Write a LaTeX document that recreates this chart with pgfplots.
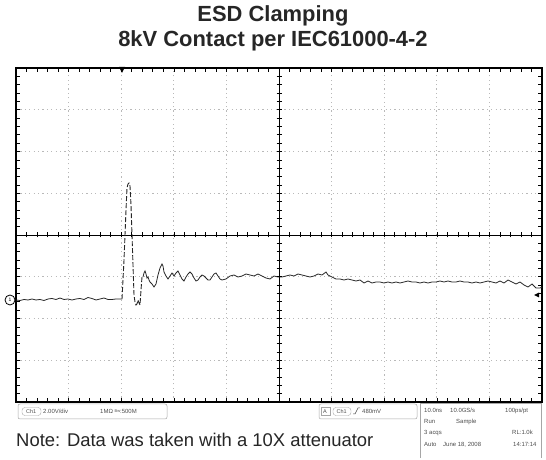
\documentclass[border=0pt]{standalone}
\usepackage{pgfplots}
\pgfplotsset{compat=1.18}
\usepackage{pgfplotstable}
\usepackage{fontspec}
\setmainfont{Liberation Sans}

% trace: x = screen position, y = screen height (1 unit = 1bp)
\pgfplotstableread{
x y
16 160
20 159.5
24 160.5
28 160
32 161
36 160
40 160.5
44 159.5
48 161
52 161.5
56 160.5
60 162
64 160.5
68 161
72 160
76 161
80 161.5
84 160.5
88 162.5
92 161.5
96 160
100 161
104 162
108 160.5
112 160.5
116 161
120 161
122 161
}\pre

\pgfplotstableread{
x y
122 161
124 200
126 250
127 272
128 276
129 277
130 274
131 255
132 225
133 195
134 165
135 158
136 155
137 156
138 160
139 157
140 155
141 170
142 183
143 183
}\spike

\pgfplotstableread{
x y
143 183
144 187
145 189
146 186
147 182
148 183
149 180
150 178
152 176
154 173
156 176
158 185
160 192
162 196
163 194
164 188
166 184
168 181
170 184
172 187
174 184
176 187
178 189
180 185
182 181
184 179
186 183
188 186
190 188
192 186
194 182
196 179
198 180
200 183
202 185
204 184
206 182
208 180
210 180
212 183
214 186
216 187
218 184
220 181
222 180
226 181
230 184
234 185
238 183
242 184
246 186
250 185
254 184
258 186
262 184
266 182
270 181
274 184
278 183
282 183
286 184
290 185
294 184
298 186
302 185
306 184
310 183
314 184
318 186
322 185
326 188
328 185
332 183
336 181
340 181
344 180
348 181
352 180
356 179
360 180
364 177
368 179
372 177
376 178
380 178
384 177
388 178
392 177
396 178
400 177
404 178
408 179
412 178
416 178
420 177
424 178
428 177
432 178
436 178
440 179
444 178
448 179
452 178
456 178
460 179
464 178
468 178
472 177
476 178
480 177
484 178
488 179
492 178
496 177
500 179
504 177
508 180
512 178
516 176
520 178
524 175
528 173
532 176
536 172
540 172
542 173
}\post

\begin{document}
\begin{tikzpicture}[x=1bp,y=1bp]
\useasboundingbox (0,0) rectangle (546,460);
\begin{axis}[
  at={(16bp,58bp)}, anchor=south west,
  scale only axis, width=526bp, height=334bp,
  xmin=16, xmax=542, ymin=58, ymax=392,
  xtick={16,68.6,121.2,173.8,226.4,279,331.6,384.2,436.8,489.4,542},
  ytick={58,99.75,141.5,183.25,225,266.75,308.5,350.25,392},
  minor x tick num=4, minor y tick num=4,
  xticklabels={}, yticklabels={},
  grid=major,
  major grid style={gray!55, line width=0.7bp, dash pattern=on 1.2bp off 3.2bp},
  tick style={black, line width=0.6bp},
  major tick length=4bp, minor tick length=4bp,
  axis line style={black, line width=1.1bp},
]
\draw[black, line width=0.7bp] (axis cs:16,225) -- (axis cs:542,225);
\draw[black, line width=0.7bp] (axis cs:279,58) -- (axis cs:279,392);
\addplot[black!85, line width=0.8bp, no marks] table[x=x,y=y] {\pre};
\addplot[black!85, line width=0.9bp, no marks, dash pattern=on 5bp off 2bp] table[x=x,y=y] {\spike};
\addplot[black!85, line width=0.8bp, no marks] table[x=x,y=y] {\post};
\end{axis}

% centre-line ticks
\foreach \i in {0,...,50} \draw[black, line width=0.6bp] (16+\i*10.52,222.5) -- ++(0,5);
\foreach \i in {0,...,40} \draw[black, line width=0.6bp] (276.5,58+\i*8.35) -- ++(5,0);

% markers
\draw[black, line width=0.8bp, fill=white] (10,160) circle (5);
\node[font=\fontsize{5}{5}\selectfont] at (10,160) {1};
\fill[black] (119,393) -- (125,393) -- (122,387) -- cycle;
\fill[black] (534,165) -- (539,167.5) -- (539,162.5) -- cycle;

% title
\node[anchor=base, font=\fontsize{22}{24}\selectfont\bfseries, text=black!85] at (273,438) {ESD Clamping};
\node[anchor=base, font=\fontsize{22}{24}\selectfont\bfseries, text=black!85] at (273,413) {8kV Contact per IEC61000-4-2};

% note
\node[anchor=base west, inner sep=0, font=\fontsize{18.5}{20}\selectfont, text=black!85] at (16,13) {Note: Data was taken with a 10X attenuator};

% status boxes
\draw[gray!70, line width=0.5bp, rounded corners=2bp] (18,56) rectangle (167,41);
\draw[gray!70, line width=0.4bp, rounded corners=3bp] (22,52.5) rectangle (41,44.5);
\node[anchor=base west, inner sep=0, font=\fontsize{5.5}{6}\selectfont, text=black!70] at (26,46.5) {Ch1};
\node[anchor=base west, inner sep=0, font=\fontsize{6}{6}\selectfont, text=black!70] at (43,46.5) {2.00V/div};
\node[anchor=base west, inner sep=0, font=\fontsize{6}{6}\selectfont, text=black!70] at (100,46.5) {1MΩ \raisebox{1bp}{\fontsize{4}{4}\selectfont Bw}:500M};

\draw[gray!70, line width=0.5bp, rounded corners=2bp] (319,56) rectangle (417,41);
\draw[gray!70, line width=0.4bp] (321,52.5) rectangle (330,44.5);
\node[anchor=base west, inner sep=0, font=\fontsize{5.5}{6}\selectfont, text=black!70] at (323,46.5) {A};
\draw[gray!70, line width=0.4bp, rounded corners=3bp] (333,52.5) rectangle (351,44.5);
\node[anchor=base west, inner sep=0, font=\fontsize{5.5}{6}\selectfont, text=black!70] at (336.5,46.5) {Ch1};
\draw[black!70, line width=0.5bp] (353,46) -- (355,46) -- (358,52) -- (360,52);
\node[anchor=base west, inner sep=0, font=\fontsize{6}{6}\selectfont, text=black!70] at (362,46.5) {480mV};

\draw[gray!70, line width=0.5bp] (420,2) -- (420,57) -- (541,57) -- (541,2);
\begin{scope}[every node/.style={anchor=base west, inner sep=0, font=\fontsize{6}{6}\selectfont, text=black!70}]
\node at (424,47) {10.0ns};
\node at (450,47) {10.0GS/s};
\node at (505,47) {100ps/pt};
\node at (424,36) {Run};
\node at (456,36) {Sample};
\node at (424,25) {3 acqs};
\node at (512,25) {RL:1.0k};
\node at (424,13) {Auto};
\node at (443,13) {June 18, 2008};
\node at (513,13) {14:17:14};
\end{scope}
\end{tikzpicture}
\end{document}
